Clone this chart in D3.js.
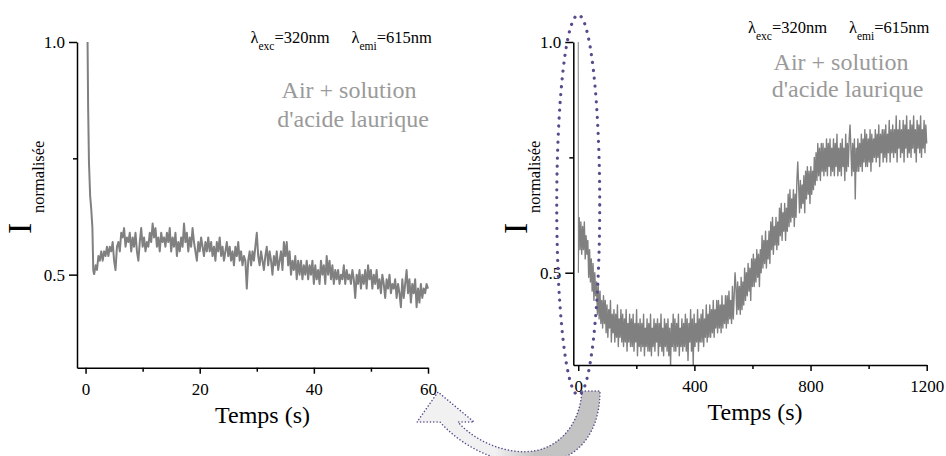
<!DOCTYPE html>
<html><head><meta charset="utf-8">
<script src="https://cdn.jsdelivr.net/npm/d3@7"></script>
<style>body{margin:0;background:#fff}svg{display:block}</style>
</head><body><svg id="c" width="946" height="456"></svg>
<script>
// ---------- data ----------
const leftStartTimes  = [0.35, 0.45, 0.6, 0.8, 1.0, 1.2, 1.35];
const leftStartValues = [1.0, 0.86, 0.74, 0.67, 0.64, 0.60, 0.51];
const leftT0 = 1.5, leftStep = 0.25;
const leftValues = [
0.50,0.52,0.51,0.54,0.53,0.55,0.53,0.55,0.54,0.56,
0.54,0.56,0.55,0.57,0.53,0.51,0.56,0.57,0.55,0.59,
0.58,0.60,0.56,0.58,0.57,0.59,0.55,0.58,0.56,0.59,
0.55,0.53,0.57,0.60,0.56,0.58,0.55,0.57,0.56,0.59,
0.57,0.61,0.58,0.60,0.56,0.58,0.55,0.59,0.57,0.58,
0.56,0.59,0.57,0.60,0.55,0.58,0.56,0.59,0.54,0.57,
0.55,0.58,0.56,0.61,0.57,0.59,0.55,0.58,0.56,0.60,
0.57,0.55,0.53,0.57,0.55,0.58,0.56,0.54,0.57,0.55,
0.58,0.55,0.57,0.54,0.56,0.53,0.57,0.55,0.58,0.54,
0.56,0.53,0.55,0.57,0.54,0.56,0.53,0.55,0.52,0.56,
0.54,0.57,0.53,0.55,0.52,0.54,0.53,0.47,0.53,0.55,
0.52,0.55,0.53,0.56,0.59,0.54,0.52,0.55,0.53,0.51,
0.54,0.56,0.52,0.55,0.53,0.50,0.54,0.52,0.55,0.51,
0.53,0.55,0.51,0.57,0.54,0.57,0.52,0.55,0.50,0.53,
0.51,0.54,0.49,0.53,0.50,0.53,0.49,0.52,0.50,0.53,
0.49,0.52,0.50,0.53,0.48,0.52,0.49,0.51,0.48,0.53,
0.50,0.52,0.48,0.54,0.50,0.53,0.49,0.52,0.48,0.51,
0.49,0.51,0.48,0.50,0.49,0.52,0.48,0.51,0.49,0.50,
0.48,0.51,0.49,0.45,0.50,0.48,0.51,0.47,0.50,0.48,
0.51,0.47,0.52,0.49,0.51,0.47,0.50,0.48,0.51,0.47,
0.49,0.46,0.50,0.48,0.45,0.49,0.47,0.50,0.46,0.48,
0.47,0.49,0.45,0.48,0.46,0.43,0.49,0.45,0.48,0.51,
0.46,0.49,0.44,0.48,0.46,0.49,0.43,0.47,0.44,0.48,
0.45,0.47,0.46,0.48,0.47
];
const rightStartTimes  = [0, 0.5];
const rightStartValues = [1.0, 0.5];
const rightT0 = 3, rightStep = 3;
const rightValues = [
0.62,0.55,0.61,0.54,0.60,0.55,0.61,0.53,0.58,0.54,
0.57,0.49,0.55,0.48,0.53,0.46,0.52,0.44,0.50,0.45,
0.48,0.41,0.47,0.40,0.46,0.39,0.44,0.38,0.45,0.39,
0.44,0.37,0.43,0.36,0.42,0.38,0.44,0.35,0.41,0.37,
0.42,0.35,0.41,0.36,0.43,0.34,0.40,0.36,0.42,0.35,
0.41,0.34,0.40,0.35,0.42,0.33,0.39,0.35,0.41,0.34,
0.40,0.34,0.41,0.33,0.39,0.35,0.42,0.32,0.39,0.34,
0.40,0.33,0.39,0.34,0.41,0.32,0.38,0.34,0.40,0.33,
0.39,0.33,0.41,0.32,0.38,0.34,0.40,0.33,0.39,0.35,
0.40,0.32,0.39,0.34,0.41,0.33,0.38,0.32,0.40,0.34,
0.39,0.33,0.40,0.32,0.38,0.30,0.39,0.34,0.41,0.33,
0.40,0.33,0.39,0.34,0.41,0.32,0.38,0.34,0.40,0.33,
0.39,0.34,0.41,0.33,0.40,0.31,0.39,0.35,0.42,0.33,
0.40,0.30,0.41,0.34,0.39,0.35,0.42,0.33,0.40,0.35,
0.41,0.35,0.42,0.34,0.40,0.36,0.43,0.35,0.41,0.36,
0.43,0.36,0.42,0.37,0.44,0.36,0.42,0.38,0.44,0.37,
0.44,0.38,0.43,0.37,0.45,0.38,0.43,0.39,0.45,0.38,
0.45,0.39,0.46,0.40,0.44,0.39,0.47,0.40,0.45,0.50,
0.47,0.41,0.48,0.42,0.47,0.41,0.49,0.42,0.48,0.43,
0.51,0.44,0.50,0.45,0.52,0.46,0.51,0.44,0.53,0.47,
0.54,0.47,0.53,0.48,0.55,0.49,0.54,0.47,0.55,0.50,
0.58,0.51,0.57,0.52,0.59,0.51,0.57,0.53,0.59,0.52,
0.61,0.55,0.62,0.54,0.60,0.56,0.62,0.55,0.61,0.56,
0.64,0.58,0.65,0.57,0.63,0.59,0.65,0.57,0.64,0.59,
0.67,0.60,0.68,0.61,0.66,0.62,0.68,0.60,0.67,0.62,
0.70,0.74,0.69,0.63,0.70,0.64,0.69,0.65,0.71,0.63,
0.72,0.66,0.73,0.67,0.72,0.65,0.73,0.67,0.72,0.68,
0.75,0.69,0.76,0.70,0.78,0.71,0.77,0.70,0.78,0.72,
0.78,0.71,0.77,0.72,0.79,0.71,0.78,0.73,0.79,0.71,
0.77,0.72,0.79,0.71,0.78,0.73,0.80,0.71,0.77,0.72,
0.78,0.71,0.79,0.73,0.77,0.70,0.80,0.72,0.78,0.73,
0.79,0.82,0.77,0.71,0.78,0.72,0.79,0.66,0.77,0.72,
0.79,0.72,0.78,0.73,0.80,0.72,0.79,0.74,0.81,0.73,
0.80,0.73,0.79,0.74,0.81,0.72,0.80,0.74,0.79,0.75,
0.81,0.74,0.80,0.75,0.82,0.73,0.80,0.76,0.81,0.74,
0.81,0.75,0.82,0.74,0.80,0.76,0.83,0.74,0.81,0.76,
0.82,0.75,0.81,0.76,0.84,0.74,0.81,0.77,0.83,0.75,
0.81,0.76,0.83,0.74,0.82,0.77,0.84,0.75,0.81,0.76,
0.83,0.75,0.82,0.77,0.84,0.76,0.81,0.74,0.83,0.77,
0.82,0.76,0.84,0.75,0.81,0.77,0.83,0.76,0.82,0.78
];
const leftXTicks = [0, 20, 40, 60], leftXMinor = [10, 30, 50];
const rightXTicks = [0, 400, 800, 1200], rightXMinor = [200, 600, 1000];
const yTicks = [0.5, 1.0], yMinor = [0.75];
const xLabel = "Temps (s)";
const yLabelMain = "I", yLabelSub = "normalisée";
const sampleText = ["Air + solution", "d'acide laurique"];

// ---------- drawing ----------
const serif = "Liberation Serif";
const svg = d3.select("#c");
const LINE = "#808080";

function series(startT, startV, t0, step, vals) {
  const head = startT.map((t, i) => [t, startV[i]]);
  const body = vals.map((v, i) => [t0 + i * step, v]);
  return {head: head.concat([body[0]]), body};
}

function panel(cfg) {
  const g = svg.append("g");
  const x = d3.scaleLinear().domain(cfg.xDomain).range(cfg.xRange);
  const y = d3.scaleLinear().domain([0.3, 1.0]).range(cfg.yRange);
  cfg.x = x; cfg.y = y;
  const line = d3.line().x(d => x(d[0])).y(d => y(d[1]));

  g.append("path").datum(cfg.data.head)
    .attr("fill", "none").attr("stroke", LINE)
    .attr("stroke-width", cfg.lwHead).attr("stroke-linejoin", "round").attr("d", line);
  g.append("path").datum(cfg.data.body)
    .attr("fill", "none").attr("stroke", LINE)
    .attr("stroke-width", cfg.lw).attr("stroke-linejoin", "round").attr("d", line);

  g.append("g").attr("transform", `translate(0,${cfg.yRange[0]})`)
    .call(d3.axisBottom(x).tickValues(cfg.xTicks).tickFormat(d3.format("d"))
      .tickSize(6).tickSizeOuter(0).tickPadding(9));
  const xm = g.append("g").attr("transform", `translate(0,${cfg.yRange[0]})`)
    .call(d3.axisBottom(x).tickValues(cfg.xMinor).tickFormat("").tickSize(4));
  xm.select(".domain").remove();
  g.append("g").attr("transform", `translate(${cfg.xRange[0]},0)`)
    .call(d3.axisLeft(y).tickValues(yTicks).tickFormat(d3.format(".1f"))
      .tickSize(8).tickSizeOuter(0).tickPadding(4));
  const ym = g.append("g").attr("transform", `translate(${cfg.xRange[0]},0)`)
    .call(d3.axisLeft(y).tickValues(yMinor).tickFormat("").tickSize(4));
  ym.select(".domain").remove();
  g.selectAll(".domain, .tick line").attr("stroke", "#000").attr("stroke-width", 1.5);
  g.selectAll(".tick text").attr("font-family", serif).attr("font-size", 17).attr("fill", "#000");

  g.append("text").attr("x", cfg.xTitleX).attr("y", cfg.yRange[0] + 55)
    .attr("text-anchor", "middle").attr("font-family", serif).attr("font-size", 24)
    .text(xLabel);
  const ax = cfg.xRange[0];
  g.append("text").attr("transform", `translate(${ax - 46},234) rotate(-90)`)
    .attr("font-family", serif).attr("font-size", 34).text(yLabelMain);
  g.append("text").attr("transform", `translate(${ax - 33},213) rotate(-90)`)
    .attr("font-family", serif).attr("font-size", 16.5).text(yLabelSub);

  const lt = g.append("text").attr("font-family", serif).attr("font-size", 16.5)
    .attr("y", cfg.lamY);
  const parts = [["λ", "exc", "=320nm", cfg.lamX], ["λ", "emi", "=615nm", cfg.lamX + 101]];
  parts.forEach(p => {
    lt.append("tspan").attr("x", p[3]).attr("y", cfg.lamY).text(p[0]);
    lt.append("tspan").attr("dy", 7).attr("font-size", 11.5).text(p[1]);
    lt.append("tspan").attr("dy", -7).text(p[2]);
  });

  sampleText.forEach((s, i) => {
    g.append("text").attr("x", cfg.sampleX[i]).attr("y", cfg.sampleY[i])
      .attr("text-anchor", "middle").attr("font-family", serif).attr("font-size", 24)
      .attr("fill", "#9a9a9a").text(s);
  });
  return cfg;
}

const defs = svg.append("defs");
const grad = defs.append("linearGradient").attr("id", "ag")
  .attr("gradientUnits", "userSpaceOnUse").attr("x1", 495).attr("y1", 0).attr("x2", 535).attr("y2", 0);
grad.append("stop").attr("offset", 0).attr("stop-color", "#f1f1f1");
grad.append("stop").attr("offset", 1).attr("stop-color", "#c3c3c3");
svg.append("path")
  .attr("d", "M582,391 L600,391 C600,425 585,455 550,462 C515,469 470,455 440,422 L417,422 L438,392 L474,422 L458,422 C480,447 520,458 545,448 C565,440 580,420 582,391 Z")
  .attr("fill", "url(#ag)").attr("stroke", "#5a4a8c").attr("stroke-width", 1.5)
  .attr("stroke-dasharray", "0.1 3.2").attr("stroke-linecap", "round");

const L = panel({
  data: series(leftStartTimes, leftStartValues, leftT0, leftStep, leftValues),
  xDomain: [-1.5, 60], xRange: [77, 428], yRange: [367.7, 42], lw: 2, lwHead: 2,
  xTicks: leftXTicks, xMinor: leftXMinor, xTitleX: 262.5,
  lamX: 250.5, lamY: 43, sampleX: [349, 353], sampleY: [98, 127]
});
const R = panel({
  data: series(rightStartTimes, rightStartValues, rightT0, rightStep, rightValues),
  xDomain: [-17, 1200], xRange: [573.3, 926.7], yRange: [365, 42], lw: 1.4, lwHead: 1,
  xTicks: rightXTicks, xMinor: rightXMinor, xTitleX: 755,
  lamX: 748, lamY: 33, sampleX: [841, 847.5], sampleY: [70, 97]
});

svg.append("ellipse").attr("cx", R.x(0)).attr("cy", 205).attr("rx", 21.5).attr("ry", 190)
  .attr("fill", "none").attr("stroke", "#5a4a8c").attr("stroke-width", 3.2)
  .attr("stroke-dasharray", "0.1 7.8").attr("stroke-linecap", "round");
</script></body></html>
